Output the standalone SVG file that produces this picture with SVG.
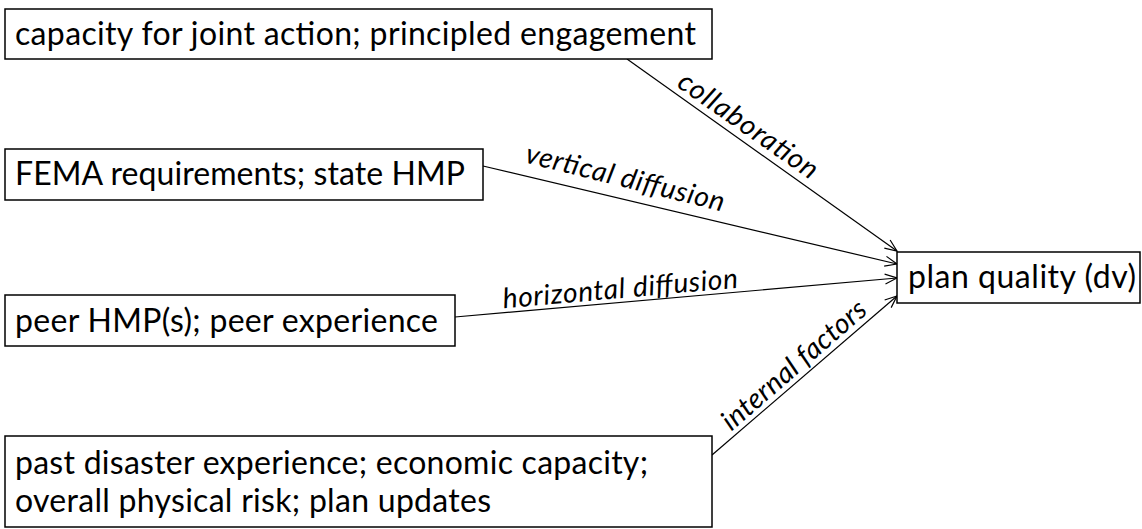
<svg xmlns="http://www.w3.org/2000/svg" width="1142" height="529" viewBox="0 0 1142 529">
  <style>
    .box { fill: #ffffff; stroke: #000000; stroke-width: 1.5; }
    .txt { font-family: "Lato", "Liberation Sans", sans-serif; font-size: 32px; fill: #000000; }
    .lbl { font-family: "Lato", "Liberation Sans", sans-serif; font-size: 28px; font-style: italic; fill: #000000; text-anchor: middle; }
    .edge { stroke: #000000; stroke-width: 1.2; fill: none; marker-end: url(#arrow); }
  </style>
  <defs>
    <marker id="arrow" markerUnits="userSpaceOnUse" markerWidth="16" markerHeight="14" refX="13" refY="6" orient="auto">
      <path d="M1,1 L13,6 L1,11" fill="none" stroke="#000000" stroke-width="1.2"/>
    </marker>
  </defs>
  <rect width="1142" height="529" fill="#ffffff"/>

  <!-- arrows into the dependent variable, with their italic labels -->
  <g id="connectors">
    <line class="edge" x1="627" y1="59" x2="897" y2="251"/>
    <line class="edge" x1="483" y1="166" x2="897" y2="264"/>
    <line class="edge" x1="455" y1="317" x2="897" y2="278"/>
    <line class="edge" x1="712" y1="455" x2="897" y2="296"/>
    <text class="lbl" transform="translate(743,133) rotate(35)" textLength="164">collaboration</text>
    <text class="lbl" transform="translate(623,187) rotate(14)" textLength="204">vertical diffusion</text>
    <text class="lbl" transform="translate(621,298) rotate(-5)" textLength="236">horizontal diffusion</text>
    <text class="lbl" transform="translate(800,372) rotate(-41)" textLength="182">internal factors</text>
  </g>

  <g id="node-collaboration">
    <rect class="box" x="5" y="9" width="707" height="50"/>
    <text class="txt" x="15" y="45" textLength="681">capacity for joint action; principled engagement</text>
  </g>
  <g id="node-vertical">
    <rect class="box" x="5" y="149" width="478" height="51"/>
    <text class="txt" x="15" y="185" textLength="450">FEMA requirements; state HMP</text>
  </g>
  <g id="node-horizontal">
    <rect class="box" x="5" y="295" width="450" height="51"/>
    <text class="txt" x="15" y="332" textLength="423">peer HMP(s); peer experience</text>
  </g>
  <g id="node-internal">
    <rect class="box" x="5" y="436" width="707" height="91"/>
    <text class="txt" x="15" y="474" textLength="633">past disaster experience; economic capacity;</text>
    <text class="txt" x="15" y="512" textLength="476">overall physical risk; plan updates</text>
  </g>
  <g id="node-dv">
    <rect class="box" x="897" y="252" width="243" height="51"/>
    <text class="txt" x="908" y="288" textLength="228">plan quality (dv)</text>
  </g>
</svg>
